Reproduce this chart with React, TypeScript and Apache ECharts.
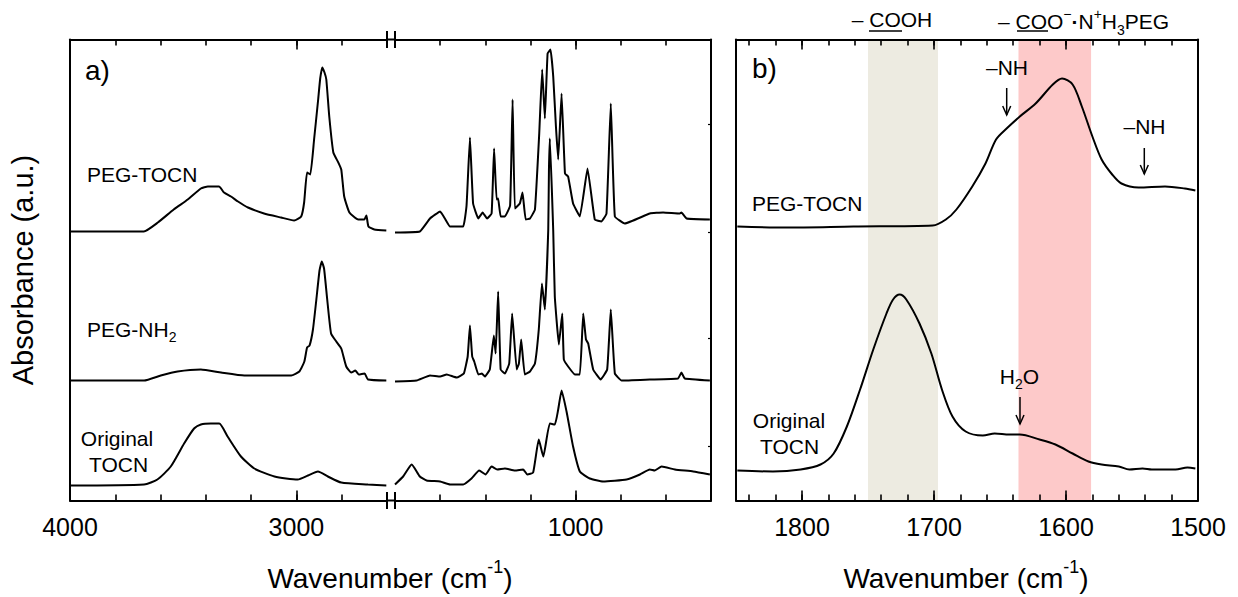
import React, { useEffect, useRef } from "react";
import * as echarts from "echarts";

const FONT = '"Liberation Sans", Arial, Helvetica, sans-serif';

// ---------- Data: [wavenumber (cm-1), absorbance (a.u., offset spectra)] ----------
// Panel a) high-wavenumber segment 4000–2600
const pegTocnHigh = [
  [4000, 2.69], [3674, 2.69], [3612, 2.78], [3542, 2.91], [3480, 3.01], [3422, 3.12], [3391, 3.14],
  [3342, 3.14], [3320, 3.08], [3289, 3.04], [3258, 2.99], [3214, 2.93], [3143, 2.87], [3068, 2.83],
  [3010, 2.80], [2979, 2.84], [2966, 2.98], [2953, 3.28], [2939, 3.26], [2922, 3.61], [2904, 4.01],
  [2895, 4.22], [2886, 4.33], [2876, 4.28], [2868, 4.21], [2855, 3.84], [2837, 3.48], [2815, 3.38],
  [2802, 3.31], [2789, 3.04], [2766, 2.88], [2727, 2.81], [2700, 2.81], [2691, 2.85], [2682, 2.74],
  [2656, 2.71], [2603, 2.70],
];
const pegNh2High = [
  [4000, 1.20], [3673, 1.20], [3599, 1.25], [3525, 1.29], [3422, 1.31], [3333, 1.28], [3230, 1.25],
  [3023, 1.25], [2987, 1.29], [2965, 1.39], [2953, 1.53], [2942, 1.55], [2927, 1.71], [2912, 2.01],
  [2898, 2.30], [2888, 2.39], [2878, 2.32], [2864, 2.01], [2847, 1.67], [2824, 1.59], [2802, 1.52],
  [2780, 1.34], [2758, 1.28], [2740, 1.30], [2725, 1.26], [2699, 1.27], [2684, 1.21], [2603, 1.20],
];
const originalHigh = [
  [4000, 0.15], [3673, 0.16], [3614, 0.21], [3555, 0.34], [3496, 0.57], [3452, 0.72], [3422, 0.76],
  [3378, 0.77], [3341, 0.77], [3304, 0.64], [3245, 0.44], [3186, 0.32], [3097, 0.24], [2994, 0.21],
  [2949, 0.25], [2905, 0.29], [2861, 0.24], [2802, 0.18], [2684, 0.16], [2603, 0.15],
];
// Panel a) low-wavenumber segment 1800–400
const pegTocnLow = [
  [1800, 2.68], [1690, 2.69], [1645, 2.82], [1600, 2.89], [1579, 2.82], [1556, 2.74], [1498, 2.74],
  [1483, 2.95], [1468, 3.63], [1454, 2.97], [1431, 2.82], [1412, 2.88], [1392, 2.82], [1372, 2.87],
  [1361, 3.52], [1350, 3.01], [1343, 3.02], [1332, 2.84], [1313, 2.84], [1290, 2.95], [1279, 4.01],
  [1269, 2.92], [1247, 2.97], [1235, 3.08], [1221, 2.81], [1202, 2.82], [1180, 2.91], [1161, 3.67],
  [1148, 4.31], [1136, 3.82], [1124, 4.47], [1111, 4.51], [1099, 4.24], [1087, 3.74], [1077, 3.41],
  [1062, 4.07], [1047, 3.27], [1033, 3.24], [1011, 2.97], [981, 2.84], [947, 3.32], [915, 2.81],
  [885, 2.79], [863, 2.87], [844, 3.97], [826, 2.84], [782, 2.77], [671, 2.87], [612, 2.88],
  [538, 2.87], [531, 2.88], [508, 2.82], [405, 2.81],
];
const pegNh2Low = [
  [1800, 1.19], [1704, 1.20], [1645, 1.25], [1600, 1.24], [1571, 1.26], [1527, 1.23], [1495, 1.27],
  [1478, 1.44], [1468, 1.75], [1458, 1.44], [1449, 1.39], [1431, 1.26], [1415, 1.27], [1402, 1.24],
  [1380, 1.31], [1362, 1.65], [1354, 1.47], [1343, 2.09], [1332, 1.31], [1313, 1.27], [1294, 1.37],
  [1281, 1.87], [1261, 1.31], [1251, 1.37], [1241, 1.61], [1225, 1.26], [1202, 1.29], [1180, 1.37],
  [1163, 1.71], [1149, 2.17], [1136, 1.91], [1121, 2.71], [1118, 3.30], [1114, 3.62], [1099, 2.70],
  [1092, 2.04], [1074, 1.56], [1059, 1.87], [1052, 1.41], [1033, 1.34], [1003, 1.26], [981, 1.26],
  [966, 1.87], [954, 1.61], [944, 1.57], [922, 1.31], [889, 1.21], [860, 1.31], [844, 1.91],
  [826, 1.27], [796, 1.20], [671, 1.21], [546, 1.22], [531, 1.28], [516, 1.22], [405, 1.20],
];
const originalLow = [
  [1800, 0.16], [1764, 0.24], [1726, 0.36], [1690, 0.24], [1660, 0.20], [1600, 0.19], [1556, 0.16],
  [1498, 0.16], [1461, 0.22], [1427, 0.30], [1399, 0.26], [1372, 0.34], [1347, 0.31], [1313, 0.32],
  [1269, 0.30], [1232, 0.31], [1214, 0.26], [1188, 0.28], [1163, 0.61], [1143, 0.44], [1114, 0.77],
  [1092, 0.76], [1077, 0.91], [1062, 1.10], [1040, 0.89], [1011, 0.54], [981, 0.29], [937, 0.22],
  [878, 0.19], [774, 0.21], [715, 0.26], [671, 0.31], [649, 0.30], [619, 0.34], [560, 0.31],
  [479, 0.29], [405, 0.26],
];
// Panel b) 1850–1500
const bPegTocn = [
  [1849, 2.74], [1812, 2.73], [1761, 2.74], [1701, 2.75], [1691, 2.81], [1683, 2.91], [1671, 3.14],
  [1661, 3.37], [1653, 3.61], [1645, 3.72], [1635, 3.84], [1623, 3.97], [1610, 4.16], [1603, 4.22],
  [1595, 4.16], [1588, 3.94], [1580, 3.64], [1573, 3.41], [1565, 3.26], [1558, 3.17], [1545, 3.13],
  [1525, 3.14], [1510, 3.12], [1502, 3.10],
];
const bOriginal = [
  [1849, 0.30], [1822, 0.29], [1801, 0.31], [1786, 0.36], [1776, 0.47], [1766, 0.74], [1756, 1.11],
  [1746, 1.51], [1736, 1.87], [1731, 2.01], [1726, 2.06], [1721, 2.01], [1711, 1.77], [1702, 1.47],
  [1694, 1.11], [1686, 0.84], [1676, 0.69], [1663, 0.65], [1654, 0.67], [1643, 0.66], [1635, 0.66],
  [1620, 0.61], [1608, 0.56], [1595, 0.47], [1583, 0.39], [1573, 0.36], [1560, 0.34], [1552, 0.31],
  [1542, 0.32], [1535, 0.31], [1517, 0.31], [1508, 0.33], [1502, 0.32],
];

// Tick values
const ticksA1Major = [3000, 4000];
const ticksA2Major = [1000];
const ticksBMajor = [1500, 1600, 1700, 1800];
const yTicksA2 = [0.54, 1.62, 2.68, 3.76];
// Highlighted bands (cm-1)
const bandCOOH = [1750, 1697];
const bandCOONH = [1636, 1581];

const YMAX = 4.61;

// ---------- Layout ----------
const PT = 39.5;
const PH = 461;
const PB = PT + PH;
const A1 = { left: 70, width: 317 };
const A2 = { left: 395, width: 316 };
const B = { left: 736, width: 462 };

function xAxes(gridIndex: number, min: number, max: number, interval: number, major: number[]) {
  const base = {
    gridIndex,
    type: "value" as const,
    min,
    max,
    inverse: true,
    interval,
    splitLine: { show: false },
    z: 5,
  };
  const line = { show: true, onZero: false, lineStyle: { color: "#000", width: 2 } };
  const noLine = { show: false, onZero: false };
  const minorTick = { show: true, inside: true, length: 6, lineStyle: { color: "#000", width: 1.6 } };
  const majorTick = { show: true, inside: true, length: 10, customValues: major, lineStyle: { color: "#000", width: 1.6 } };
  return [
    { ...base, position: "bottom", axisLine: line, axisTick: minorTick, axisLabel: { show: false } },
    {
      ...base,
      position: "bottom",
      axisLine: noLine,
      axisTick: majorTick,
      axisLabel: {
        show: true,
        customValues: major,
        color: "#000",
        fontSize: 25,
        fontFamily: FONT,
        margin: 14,
        formatter: (v: number) => String(v),
      },
    },
    { ...base, position: "top", axisLine: line, axisTick: minorTick, axisLabel: { show: false } },
    { ...base, position: "top", axisLine: noLine, axisTick: majorTick, axisLabel: { show: false } },
  ];
}

function yAxis(gridIndex: number, position: string, tick?: number[]) {
  return {
    gridIndex,
    type: "value" as const,
    min: 0,
    max: YMAX,
    position,
    axisLine: { show: true, onZero: false, lineStyle: { color: "#000", width: 2 } },
    axisTick: tick
      ? { show: true, inside: true, length: 3, customValues: tick, lineStyle: { color: "#000", width: 1.2 } }
      : { show: false },
    axisLabel: { show: false },
    splitLine: { show: false },
    z: 5,
  };
}

function line(name: string, data: number[][], xi: number, yi: number, smooth: number | boolean = false, extra = {}) {
  return {
    name,
    type: "line",
    xAxisIndex: xi,
    yAxisIndex: yi,
    data,
    symbol: "none",
    showSymbol: false,
    smooth,
    silent: true,
    lineStyle: { color: "#000", width: 2 },
    ...extra,
  };
}

const txt = (x: number, y: number, text: string, size: number, align = "left", extra: any = {}) => ({
  type: "text",
  x,
  y,
  silent: true,
  z: 20,
  ...extra,
  style: {
    text,
    font: `${size}px ${FONT}`,
    fill: "#000",
    textAlign: align,
    textVerticalAlign: "middle",
  },
});

const richSmall = (size: number) => ({
  n: { fontSize: size, fontFamily: FONT, lineHeight: Math.round(size * 1.45), fill: "#000" },
  sub: { fontSize: Math.round(size * 0.66), fontFamily: FONT, lineHeight: Math.round(size * 0.75), verticalAlign: "bottom", fill: "#000" },
  sup: { fontSize: Math.round(size * 0.66), fontFamily: FONT, lineHeight: Math.round(size * 0.75), verticalAlign: "top", fill: "#000" },
  dot: { fontSize: size, fontFamily: FONT, fontWeight: "bold", lineHeight: Math.round(size * 1.45), fill: "#000" },
});

const richText = (x: number, y: number, text: string, size: number, align = "left", extra: any = {}) => ({
  type: "text",
  x,
  y,
  silent: true,
  z: 20,
  ...extra,
  style: {
    text,
    rich: richSmall(size),
    font: `${size}px ${FONT}`,
    fill: "#000",
    textAlign: align,
    textVerticalAlign: "middle",
  },
});

const seg = (x1: number, y1: number, x2: number, y2: number, w = 2) => ({
  type: "line",
  silent: true,
  z: 20,
  shape: { x1, y1, x2, y2 },
  style: { stroke: "#000", lineWidth: w },
});

const arrow = (x: number, y1: number, y2: number) => [
  seg(x, y1, x, y2, 1.5),
  {
    type: "polyline",
    silent: true,
    z: 20,
    shape: { points: [[x - 4, y2 - 9], [x, y2], [x + 4, y2 - 9]] },
    style: { stroke: "#000", lineWidth: 1.5, fill: "none" },
  },
];

export default function App() {
  const ref = useRef<HTMLDivElement>(null);
  useEffect(() => {
    if (!ref.current) return;
    const chart = echarts.init(ref.current, null, { renderer: "svg" });
    const brkL = A1.left + A1.width;
    const brkR = A2.left;
    const option: any = {
      animation: false,
      backgroundColor: "#fff",
      grid: [
        { left: A1.left, top: PT, width: A1.width, height: PH },
        { left: A2.left, top: PT, width: A2.width, height: PH },
        { left: B.left, top: PT, width: B.width, height: PH },
      ],
      xAxis: [
        ...xAxes(0, 2600, 4000, 200, ticksA1Major),
        ...xAxes(1, 400, 1800, 200, ticksA2Major),
        ...xAxes(2, 1500, 1850, 20, ticksBMajor),
      ],
      yAxis: [yAxis(0, "left"), yAxis(1, "right", yTicksA2), yAxis(2, "left"), yAxis(2, "right")],
      series: [
        line("PEG-TOCN (4000–2600)", pegTocnHigh, 0, 0, 0.15),
        line("PEG-NH2 (4000–2600)", pegNh2High, 0, 0, 0.15),
        line("Original TOCN (4000–2600)", originalHigh, 0, 0, 0.2),
        line("PEG-TOCN (1800–400)", pegTocnLow, 4, 1, 0.1),
        line("PEG-NH2 (1800–400)", pegNh2Low, 4, 1, 0.1),
        line("Original TOCN (1800–400)", originalLow, 4, 1, 0.15),
        line("PEG-TOCN (b)", bPegTocn, 8, 2, 0.3, {
          markArea: {
            silent: true,
            label: { show: false },
            data: [
              [{ xAxis: bandCOOH[0], itemStyle: { color: "#EDEBE1" } }, { xAxis: bandCOOH[1] }],
              [{ xAxis: bandCOONH[0], itemStyle: { color: "#FDC9C9" } }, { xAxis: bandCOONH[1] }],
            ],
          },
        }),
        line("Original TOCN (b)", bOriginal, 8, 2, 0.3),
      ],
      graphic: [
        // axis break marks
        seg(brkL, PT, brkR, PT, 2),
        seg(brkL, PB, brkR, PB, 2),
        seg(brkL, PT - 8.5, brkL, PT + 8.5, 2),
        seg(brkR, PT - 8.5, brkR, PT + 8.5, 2),
        seg(brkL, PB - 8.5, brkL, PB + 8.5, 2),
        seg(brkR, PB - 8.5, brkR, PB + 8.5, 2),
        // panel labels
        txt(85, 70, "a)", 28),
        txt(752, 68.5, "b)", 28),
        // spectrum labels panel a
        txt(87, 174, "PEG-TOCN", 21),
        richText(87, 329, "{n|PEG-NH}{sub|2}", 21),
        txt(117, 438, "Original", 21, "center"),
        txt(118.5, 464, "TOCN", 21, "center"),
        // spectrum labels panel b
        txt(752, 203, "PEG-TOCN", 21),
        txt(789, 420, "Original", 21, "center"),
        txt(789.5, 446, "TOCN", 21, "center"),
        // annotations
        txt(1007, 67.5, "–NH", 21, "center"),
        ...arrow(1006.7, 88, 115),
        txt(1144.5, 126, "–NH", 21, "center"),
        ...arrow(1144.3, 148, 174),
        richText(1019.5, 376, "{n|H}{sub|2}{n|O}", 21, "center"),
        ...arrow(1020, 397, 424),
        txt(851.7, 19.5, "– COOH", 21),
        seg(869, 31, 902, 31, 1.5),
        richText(998, 21.5, "{n|– COO}{sup|−}{dot|·}{n|N}{sup|+}{n|H}{sub|3}{n|PEG}", 21),
        seg(1017, 31, 1048, 31, 1.5),
        // axis titles
        richText(390, 578, "{n|Wavenumber (cm}{sup|-1}{n|)}", 28, "center"),
        richText(966, 578, "{n|Wavenumber (cm}{sup|-1}{n|)}", 28, "center"),
        txt(23, 270, "Absorbance (a.u.)", 29, "center", { rotation: Math.PI / 2 }),
      ],
    };
    chart.setOption(option);
    return () => chart.dispose();
  }, []);
  return (
    <div
      ref={ref}
      style={{ position: "fixed", left: 0, top: 0, width: 1238, height: 597, background: "#fff" }}
    />
  );
}
